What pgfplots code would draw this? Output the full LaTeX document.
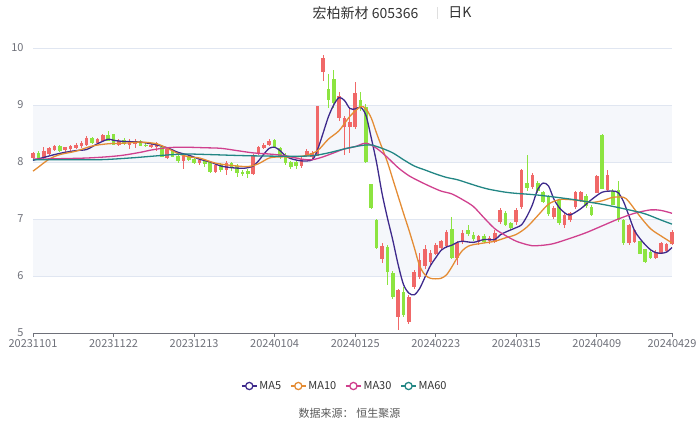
\documentclass[border=0pt]{standalone}
\usepackage{fontspec}
\setmainfont{Noto Sans CJK SC}
\usepackage{pgfplots}
\usepackage{pgfplotstable}
\pgfplotsset{compat=1.18}
\definecolor{upc}{RGB}{240,104,104}
\definecolor{dnc}{RGB}{140,228,64}
\definecolor{ma5}{RGB}{62,42,140}
\definecolor{ma10}{RGB}{228,140,52}
\definecolor{ma30}{RGB}{208,64,142}
\definecolor{ma60}{RGB}{34,134,132}
\definecolor{band}{RGB}{245,247,251}
\definecolor{gridc}{RGB}{224,230,241}
\definecolor{axisc}{RGB}{110,112,121}
\definecolor{labc}{RGB}{110,112,121}
\definecolor{titc}{RGB}{51,51,51}

\pgfplotstableread{
i O H L C
0 8.08 8.18 8.05 8.16
2 8.08 8.27 8.05 8.18
3 8.15 8.26 8.12 8.24
4 8.21 8.30 8.19 8.28
6 8.21 8.27 8.18 8.25
7 8.23 8.30 8.20 8.27
8 8.25 8.33 8.22 8.30
9 8.28 8.36 8.25 8.33
10 8.30 8.45 8.28 8.42
12 8.34 8.42 8.31 8.39
13 8.38 8.49 8.35 8.47
16 8.30 8.40 8.28 8.37
18 8.30 8.40 8.22 8.36
19 8.32 8.40 8.25 8.37
22 8.27 8.32 8.24 8.30
23 8.27 8.35 8.20 8.33
25 8.08 8.26 8.05 8.22
28 8.02 8.15 7.88 8.10
31 7.98 8.06 7.95 8.03
34 7.83 7.96 7.80 7.94
36 7.86 8.02 7.78 7.97
41 7.80 8.14 7.78 8.12
42 8.15 8.28 8.12 8.26
43 8.25 8.33 8.22 8.30
44 8.31 8.40 8.28 8.37
50 7.94 8.08 7.90 8.05
51 8.12 8.22 8.08 8.18
52 8.10 8.20 8.06 8.15
53 8.12 8.97 8.10 8.97
54 9.58 9.87 9.42 9.82
57 8.78 9.22 8.72 9.15
58 8.62 8.80 8.12 8.76
59 8.62 8.95 8.15 8.70
60 8.62 9.40 8.58 9.20
65 6.30 6.58 6.22 6.52
68 5.28 5.78 5.06 5.75
70 5.20 5.66 5.15 5.62
71 5.82 6.10 5.78 6.07
72 5.98 6.40 5.95 6.28
73 6.18 6.55 6.12 6.46
74 6.25 6.45 6.20 6.40
75 6.40 6.58 6.36 6.54
76 6.49 6.64 6.45 6.60
77 6.54 6.80 6.50 6.77
79 6.33 6.62 6.20 6.58
80 6.60 6.80 6.56 6.75
83 6.60 6.72 6.55 6.69
85 6.62 6.70 6.56 6.66
86 6.60 6.80 6.58 6.75
87 6.95 7.20 6.92 7.16
90 6.95 7.20 6.90 7.16
91 7.21 7.88 7.18 7.86
93 7.56 7.80 7.52 7.77
97 7.04 7.22 7.00 7.19
99 6.90 7.10 6.85 7.07
100 6.98 7.12 6.95 7.10
101 7.21 7.50 7.18 7.47
102 7.33 7.50 7.30 7.47
105 7.47 7.78 7.45 7.74
107 7.51 7.86 7.48 7.77
111 6.58 6.92 6.55 6.89
112 6.60 6.82 6.58 6.80
116 6.33 6.45 6.30 6.42
117 6.40 6.60 6.38 6.58
118 6.45 6.58 6.42 6.55
119 6.56 6.80 6.54 6.77
}\uptable

\pgfplotstableread{
i O H L C
1 8.16 8.20 8.04 8.06
5 8.28 8.30 8.18 8.20
11 8.42 8.44 8.32 8.34
14 8.47 8.55 8.36 8.38
15 8.48 8.50 8.30 8.31
17 8.38 8.42 8.30 8.32
20 8.36 8.39 8.28 8.29
21 8.30 8.34 8.26 8.28
24 8.26 8.28 8.08 8.10
26 8.21 8.23 8.08 8.10
27 8.10 8.12 7.99 8.02
29 8.10 8.13 8.01 8.04
30 8.05 8.08 7.96 7.98
32 8.03 8.06 7.92 7.97
33 7.99 8.01 7.80 7.83
35 7.95 7.98 7.82 7.86
37 7.98 8.00 7.85 7.92
38 7.93 7.97 7.74 7.82
39 7.82 7.86 7.76 7.79
40 7.84 7.88 7.72 7.80
45 8.38 8.40 8.24 8.27
46 8.24 8.27 8.05 8.10
47 8.12 8.15 7.95 7.99
48 7.99 8.02 7.88 7.92
49 8.00 8.03 7.88 7.93
55 9.28 9.55 8.95 9.10
56 9.45 9.62 8.95 9.05
61 9.08 9.22 8.90 8.96
62 8.96 9.02 7.98 8.00
63 7.60 7.62 7.18 7.20
64 6.98 7.00 6.48 6.50
66 6.50 6.55 5.85 6.08
67 6.05 6.08 5.60 5.63
69 5.72 5.80 5.28 5.32
78 6.81 7.04 6.30 6.32
81 6.80 6.90 6.70 6.74
82 6.72 6.78 6.62 6.65
84 6.70 6.74 6.58 6.61
88 7.10 7.14 6.88 6.90
89 6.92 6.95 6.80 6.84
92 7.63 8.12 7.50 7.55
94 7.63 7.66 7.45 7.49
95 7.47 7.50 7.28 7.30
96 7.39 7.42 7.05 7.10
98 7.33 7.35 6.90 6.93
103 7.40 7.44 7.20 7.24
104 7.21 7.24 7.05 7.07
106 8.47 8.50 7.52 7.54
108 7.49 7.52 7.24 7.26
109 7.51 7.66 6.95 6.98
110 6.98 7.00 6.55 6.58
113 6.60 6.62 6.38 6.40
114 6.46 6.48 6.22 6.25
115 6.42 6.45 6.30 6.33
}\dntable

\begin{document}
\begin{tikzpicture}
\path[use as bounding box] (-33pt,-93pt) rectangle (667pt,333pt);
\begin{axis}[
  at={(0pt,0pt)}, anchor=south west,
  scale only axis, width=639pt, height=285pt,
  xmin=0, xmax=119, ymin=5, ymax=10,
  clip=false,
  separate axis lines,
  axis x line*=bottom, axis y line*=left,
  y axis line style={draw=none},
  x axis line style={draw=axisc, line width=0.8pt, -},
  xtick={0,15,30,45,60,75,90,105,119},
  xticklabels={20231101,20231122,20231213,20240104,20240125,20240223,20240315,20240409,20240429},
  ytick={5,6,7,8,9,10},
  tick align=outside,
  major tick length=4pt,
  xtick style={draw=axisc, line width=0.8pt},
  ytick style={draw=none},
  /pgf/number format/assume math mode=true,
  tick label style={font=\fontsize{11}{13}\selectfont, text=labc},
  y tick label style={xshift=-2pt},
  x tick label style={yshift=1pt},
  legend style={at={(axis description cs:0.488,-0.186)}, anchor=center, draw=none, fill=none,
    legend columns=4, font=\fontsize{11}{13}\selectfont, text=titc,
    /tikz/every even column/.append style={column sep=7pt}},
  legend image code/.code={
    \draw[#1, line width=1.3pt] (0pt,0pt) -- (15pt,0pt);
    \draw[#1, line width=1.3pt, fill=white] (7.5pt,0pt) circle (3.6pt);
  },
  candle/.style={forget plot, draw=none, mark=none},
]
% background bands and grid
\fill[band] (axis cs:0,6) rectangle (axis cs:119,7);
\fill[band] (axis cs:0,8) rectangle (axis cs:119,9);
\draw[gridc, line width=0.8pt] (axis cs:0,6) -- (axis cs:119,6);
\draw[gridc, line width=0.8pt] (axis cs:0,7) -- (axis cs:119,7);
\draw[gridc, line width=0.8pt] (axis cs:0,8) -- (axis cs:119,8);
\draw[gridc, line width=0.8pt] (axis cs:0,9) -- (axis cs:119,9);
\draw[gridc, line width=0.8pt] (axis cs:0,10) -- (axis cs:119,10);

% wicks
\addplot[candle,
  error bars/.cd, y dir=both, y explicit, error mark=none,
  error bar style={draw=upc, line width=0.9pt}]
  table[x=i, y expr={(\thisrow{H}+\thisrow{L})/2}, y error expr={(\thisrow{H}-\thisrow{L})/2}] {\uptable};
\addplot[candle,
  error bars/.cd, y dir=both, y explicit, error mark=none,
  error bar style={draw=dnc, line width=0.9pt}]
  table[x=i, y expr={(\thisrow{H}+\thisrow{L})/2}, y error expr={(\thisrow{H}-\thisrow{L})/2}] {\dntable};
% bodies
\addplot[candle,
  error bars/.cd, y dir=both, y explicit, error mark=none,
  error bar style={draw=upc, line width=3.6pt}]
  table[x=i, y expr={(\thisrow{O}+\thisrow{C})/2}, y error expr={abs(\thisrow{C}-\thisrow{O})/2+0.006}] {\uptable};
\addplot[candle,
  error bars/.cd, y dir=both, y explicit, error mark=none,
  error bar style={draw=dnc, line width=3.6pt}]
  table[x=i, y expr={(\thisrow{O}+\thisrow{C})/2}, y error expr={abs(\thisrow{C}-\thisrow{O})/2+0.006}] {\dntable};

% moving averages
\addplot[ma5, line width=1.3pt, smooth, tension=0.5, mark=none] coordinates {
(0,8.03)(2,8.08)(4,8.13)(6,8.17)(8,8.20)(10,8.22)(12,8.32)(14,8.40)(15,8.38)(17,8.36)
(20,8.35)(23,8.30)(25,8.25)(27,8.17)(29,8.12)(31,8.05)(33,8.00)(35,7.93)(37,7.90)(39,7.89)
(40,7.90)(41,7.93)(42,8.02)(43,8.14)(44,8.24)(45,8.26)(46,8.20)(47,8.11)(48,8.06)(50,8.02)
(52,8.04)(53,8.22)(54,8.50)(55,8.79)(56,9.00)(57,9.13)(58,9.08)(59,8.94)(60,8.93)(61,8.96)
(62,8.82)(63,8.42)(64,7.98)(65,7.45)(66,7.02)(67,6.63)(68,6.20)(69,5.85)(70,5.70)(71,5.67)
(72,5.78)(73,5.98)(74,6.18)(75,6.32)(76,6.45)(77,6.51)(78,6.54)(79,6.59)(80,6.61)(82,6.59)
(84,6.64)(86,6.64)(87,6.72)(88,6.77)(90,6.85)(91,6.90)(92,7.05)(93,7.25)(94,7.52)(95,7.63)
(96,7.58)(97,7.35)(98,7.20)(99,7.11)(100,7.07)(102,7.18)(104,7.34)(106,7.47)(108,7.49)(109,7.46)
(110,7.30)(111,7.05)(112,6.80)(113,6.66)(114,6.55)(115,6.46)(116,6.41)(117,6.40)(118,6.42)(119,6.50)
};
\addlegendentry{MA5}
\addplot[ma10, line width=1.3pt, smooth, tension=0.5, mark=none] coordinates {
(0,7.84)(1,7.91)(3,8.05)(5,8.13)(8,8.19)(11,8.28)(14,8.32)(17,8.33)(20,8.35)(23,8.32)
(25,8.24)(27,8.15)(29,8.09)(31,8.07)(34,7.98)(37,7.94)(40,7.92)(42,7.97)(44,8.07)(46,8.09)
(49,8.09)(51,8.12)(53,8.20)(55,8.40)(57,8.55)(59,8.80)(61,8.97)(62,8.93)(63,8.77)(64,8.50)
(65,8.25)(66,8.00)(67,7.70)(68,7.40)(69,7.10)(70,6.81)(71,6.50)(72,6.18)(73,6.02)(74,5.96)
(75,5.95)(76,5.96)(77,6.02)(78,6.16)(79,6.32)(80,6.45)(81,6.52)(82,6.55)(84,6.58)(86,6.61)
(88,6.67)(90,6.73)(92,6.86)(94,7.06)(96,7.26)(98,7.34)(100,7.34)(102,7.32)(104,7.29)(106,7.32)
(108,7.38)(110,7.38)(111,7.30)(113,7.05)(115,6.83)(117,6.70)(118,6.64)(119,6.58)
};
\addlegendentry{MA10}
\addplot[ma30, line width=1.3pt, smooth, tension=0.5, mark=none] coordinates {
(0,8.05)(10,8.07)(16,8.11)(20,8.17)(22,8.21)(25,8.25)(28,8.26)(32,8.25)(35,8.24)(38,8.20)
(41,8.16)(44,8.14)(47,8.11)(50,8.05)(52,8.04)(54,8.09)(56,8.16)(58,8.23)(60,8.27)(62,8.33)
(64,8.24)(66,8.08)(68,7.90)(70,7.76)(72,7.66)(74,7.57)(76,7.49)(78,7.44)(80,7.34)(82,7.22)
(84,7.02)(86,6.83)(88,6.71)(90,6.61)(92,6.55)(93,6.53)(95,6.54)(97,6.57)(100,6.66)(103,6.76)
(106,6.88)(109,7.00)(112,7.10)(115,7.16)(117,7.15)(119,7.10)
};
\addlegendentry{MA30}
\addplot[ma60, line width=1.3pt, smooth, tension=0.5, mark=none] coordinates {
(0,8.04)(12,8.04)(18,8.07)(22,8.10)(26,8.13)(29,8.14)(33,8.13)(40,8.11)(48,8.10)(52,8.11)
(55,8.16)(58,8.23)(60,8.27)(62,8.30)(63,8.30)(65,8.24)(67,8.16)(69,8.04)(71,7.93)(73,7.86)
(75,7.79)(77,7.73)(79,7.69)(81,7.63)(83,7.57)(85,7.52)(88,7.47)(90,7.45)(94,7.42)(100,7.35)
(104,7.29)(107,7.24)(111,7.16)(114,7.09)(117,6.98)(119,6.91)
};
\addlegendentry{MA60}
\end{axis}
% title
\node[font=\fontsize{14}{16}\selectfont, text=titc] at (332.5pt,320pt) {宏柏新材 605366};
\draw[gray!25, line width=0.8pt] (404pt,314pt) -- (404pt,326pt);
\node[font=\fontsize{14}{16}\selectfont, text=titc] at (427pt,320pt) {日K};
% source
\node[font=\fontsize{11}{13}\selectfont, text=black!65] at (316.5pt,-80pt) {数据来源：\hspace{3pt}恒生聚源};
\end{tikzpicture}
\end{document}
